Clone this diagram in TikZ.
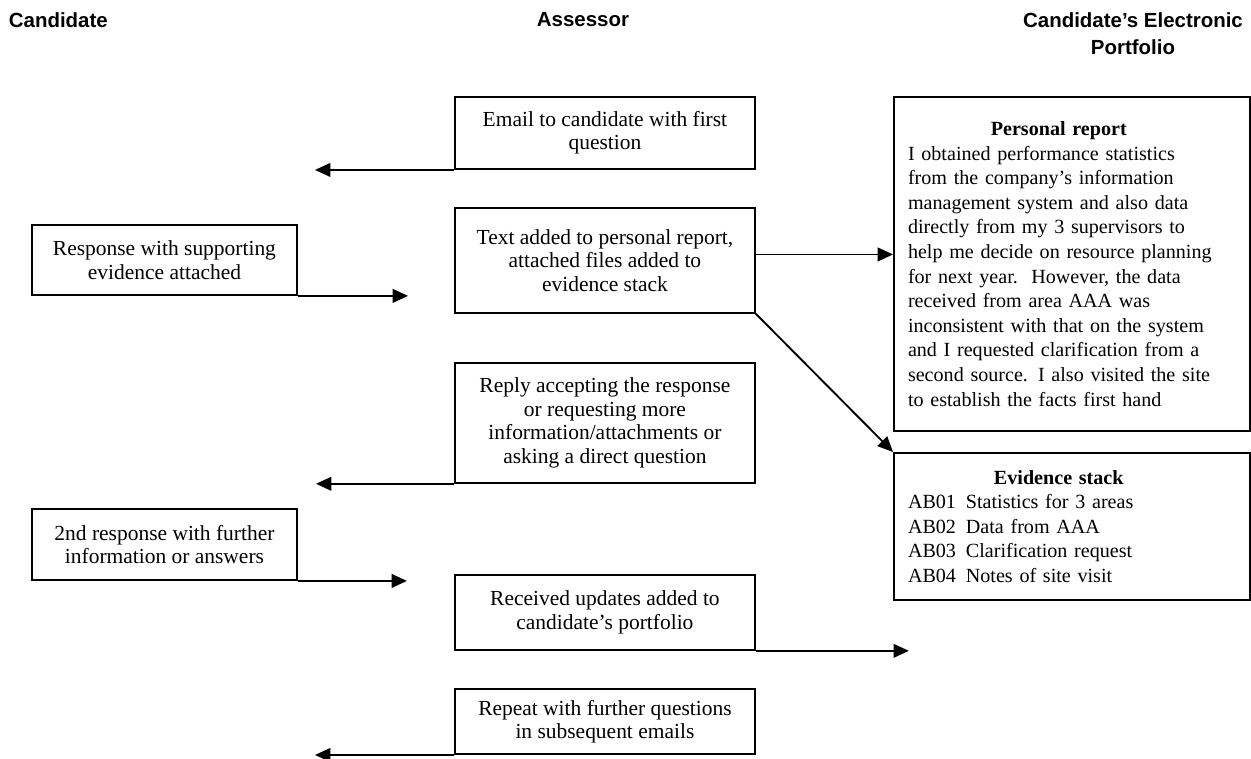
\documentclass[tikz,border=0pt]{standalone}
\usepackage{fontspec}
\setmainfont{Liberation Serif}
\newfontfamily\headfont{Liberation Sans}
\usetikzlibrary{arrows.meta, positioning}

\begin{document}
\begin{tikzpicture}[
>={Triangle[length=9pt,width=8pt]},
x=0.587pt, y=-0.587pt,
line width=1.1pt,
txtbox/.style={draw, line width=1.1pt, align=center, inner sep=0pt, anchor=north west, font=\fontsize{12.6}{13.8}\selectfont},
portbox/.style={txtbox, align=left, text width=192.5pt, inner xsep=8.2pt, minimum width=209pt, font=\fontsize{11.8}{14.44}\selectfont},
colhead/.style={font=\headfont\bfseries\fontsize{12}{15.5}\selectfont, align=center, inner sep=0pt},
]
\useasboundingbox (0,0) rectangle (1251,758);

% column headings
\node[colhead, anchor=west] (candhead) at (8,20) {Candidate};
\node[colhead] (asshead) at (583,20) {Assessor};
\node[colhead] (porthead) at (1133,33.5) {Candidate’s Electronic\\Portfolio};

% assessor nodes
\node[txtbox, minimum width=176.1pt, minimum height=42.3pt] (email) at (454,96) {Email to candidate with first\\question};
\node[txtbox, minimum width=176.1pt, minimum height=61.6pt] (added) at (454,207) {Text added to personal report,\\attached files added to\\evidence stack};
\node[txtbox, minimum width=176.1pt, minimum height=70.4pt] (reply) at (454,362) {Reply accepting the response\\or requesting more\\information/attachments or\\asking a direct question};
\node[txtbox, minimum width=176.1pt, minimum height=44pt] (received) at (454,574) {Received updates added to\\candidate’s portfolio};
\node[txtbox, minimum width=176.1pt, minimum height=38.2pt] (repeat) at (454,688) {Repeat with further questions\\in subsequent emails};

% candidate nodes
\node[txtbox, minimum width=155.6pt, minimum height=41.1pt] (response) at (31,224) {Response with supporting\\evidence attached};
\node[txtbox, minimum width=155.6pt, minimum height=41.7pt] (second) at (31,508) {2nd response with further\\information or answers};

% portfolio nodes
\node[portbox, minimum height=196pt] (report) at (893,96) {\makebox[177pt]{\textbf{Personal report}}\\I obtained performance statistics\\from the company’s information\\management system and also data\\directly from my 3 supervisors to\\help me decide on resource planning\\for next year.\ \ However, the data\\received from area AAA was\\inconsistent with that on the system\\and I requested clarification from a\\second source. I also visited the site\\to establish the facts first hand};
\node[portbox, minimum height=86.3pt] (evidence) at (893,452) {\makebox[177pt]{\textbf{Evidence stack}}\\\makebox[34pt][l]{AB01}Statistics for 3 areas\\\makebox[34pt][l]{AB02}Data from AAA\\\makebox[34pt][l]{AB03}Clarification request\\\makebox[34pt][l]{AB04}Notes of site visit};

% free ends
\coordinate (emailend) at ([xshift=-81.6pt]email.south west);
\coordinate (responseend) at ([xshift=64.6pt]response.south east);
\coordinate (addedout) at ([yshift=3.5pt]added.east);
\coordinate (replyend) at ([xshift=-81pt]reply.south west);
\coordinate (secondend) at ([xshift=64pt]second.south east);
\coordinate (receivedend) at ([xshift=89.8pt]received.south east);
\coordinate (repeatend) at ([xshift=-81.6pt]repeat.south west);

% arrows
\draw[->] (email.south west) -- (emailend);
\draw[->] (response.south east) -- (responseend);
\draw[->] (addedout) -- (report.west |- addedout);
\draw[->] (added.south east) -- (evidence.north west);
\draw[->] (reply.south west) -- (replyend);
\draw[->] (second.south east) -- (secondend);
\draw[->] (received.south east) -- (receivedend);
\draw[->] (repeat.south west) -- (repeatend);
\end{tikzpicture}
\end{document}
